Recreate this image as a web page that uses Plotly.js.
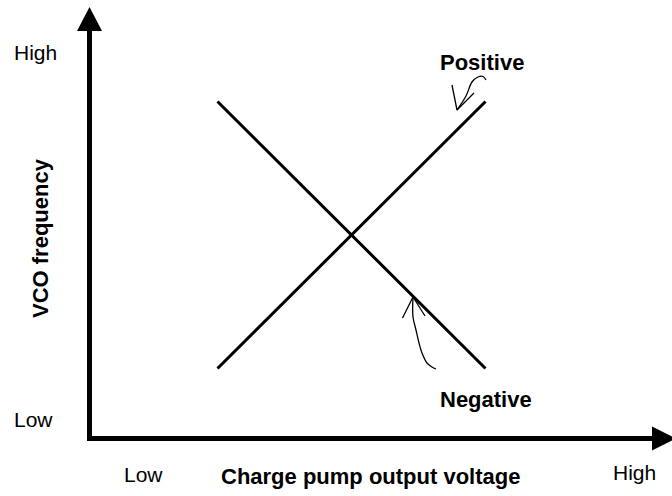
<!DOCTYPE html>
<html>
<head>
<meta charset="utf-8">
<script src="https://cdn.plot.ly/plotly-3.0.1.min.js"></script>
<style>html,body{margin:0;padding:0;background:#fff;}#chart{width:672px;height:496px;}</style>
</head>
<body>
<div id="chart"></div>
<script>
// Conceptual data (arbitrary units; origin = where the axes meet)
const cpVoltage = [1.28, 3.96];          // charge pump output voltage
const freqPositive = [0.70, 3.37];       // VCO frequency, positive gain
const freqNegative = [3.37, 0.70];       // VCO frequency, negative gain
const axisLabelsX = ['Low', 'High'];
const axisLabelsY = ['Low', 'High'];
const seriesNames = ['Positive', 'Negative'];

// hand-drawn pointer strokes (same arbitrary units)
const posPointerX = [3.675, 3.765, 3.825, 3.885, 3.935, 3.965];
const posPointerY = [3.285, 3.425, 3.565, 3.615, 3.62, 3.585];
const posBarbX = [3.625, 3.675, 3.845];
const posBarbY = [3.535, 3.285, 3.455];
const negPointerX = [3.235, 3.235, 3.265, 3.295, 3.325, 3.375, 3.425, 3.465];
const negPointerY = [1.415, 1.215, 1.085, 0.955, 0.855, 0.755, 0.715, 0.695];
const negBarbX = [3.13, 3.235, 3.355];
const negBarbY = [1.205, 1.415, 1.225];

const X0 = -0.895, X1 = 5.825, Y0 = -0.575, Y1 = 4.385;
const W = 672, H = 496;
function px(x){ return x / W; }
function py(y){ return 1 - y / H; }

const black = '#000000';
const traces = [
  {x: cpVoltage, y: freqPositive, mode: 'lines', name: seriesNames[0], line: {color: black, width: 3}, hoverinfo: 'skip'},
  {x: cpVoltage, y: freqNegative, mode: 'lines', name: seriesNames[1], line: {color: black, width: 3}, hoverinfo: 'skip'},
  {x: posPointerX, y: posPointerY, mode: 'lines', line: {color: black, width: 1.3, shape: 'spline'}, hoverinfo: 'skip'},
  {x: posBarbX, y: posBarbY, mode: 'lines', line: {color: black, width: 1.3}, hoverinfo: 'skip'},
  {x: negPointerX, y: negPointerY, mode: 'lines', line: {color: black, width: 1.3, shape: 'spline'}, hoverinfo: 'skip'},
  {x: negBarbX, y: negBarbY, mode: 'lines', line: {color: black, width: 1.3}, hoverinfo: 'skip'}
];

const shapes = [
  {type: 'line', xref: 'x', yref: 'y', x0: 0, y0: -0.025, x1: 0, y1: 4.08, line: {color: black, width: 5}},
  {type: 'line', xref: 'x', yref: 'y', x0: -0.025, y0: 0, x1: 5.63, y1: 0, line: {color: black, width: 5}},
  {type: 'path', xref: 'x', yref: 'y', path: 'M -0.125 4.075 L 0.125 4.075 L 0 4.315 Z', fillcolor: black, line: {color: black, width: 0}},
  {type: 'path', xref: 'x', yref: 'y', path: 'M 5.625 0.12 L 5.625 -0.12 L 5.865 0 Z', fillcolor: black, line: {color: black, width: 0}}
];

const normal = {family: 'Liberation Sans, Arial, sans-serif', size: 21, color: black};
const bold = {family: 'Liberation Sans, Arial, sans-serif', size: 22, color: black, weight: 'bold'};
function ann(text, x, y, font, extra){
  return Object.assign({text: text, xref: 'paper', yref: 'paper', x: px(x), y: py(y), xanchor: 'center', yanchor: 'middle', showarrow: false, font: font}, extra || {});
}
const annotations = [
  ann(axisLabelsY[1], 35, 52, normal),
  ann(axisLabelsY[0], 33, 419, normal),
  ann(axisLabelsX[0], 143, 474, normal),
  ann(axisLabelsX[1], 634, 472, normal),
  ann('<b>Charge pump output voltage</b>', 370, 476, bold),
  ann('<b>VCO frequency</b>', 40, 238, bold, {textangle: -90}),
  ann('<b>' + seriesNames[0] + '</b>', 482, 62, bold),
  ann('<b>' + seriesNames[1] + '</b>', 486, 399, bold)
];

const layout = {
  width: W, height: H, autosize: false,
  margin: {l: 0, r: 0, t: 0, b: 0, pad: 0},
  paper_bgcolor: '#ffffff', plot_bgcolor: '#ffffff',
  showlegend: false,
  xaxis: {range: [X0, X1], visible: false, fixedrange: true},
  yaxis: {range: [Y0, Y1], visible: false, fixedrange: true},
  shapes: shapes,
  annotations: annotations
};
Plotly.newPlot('chart', traces, layout, {displayModeBar: false, staticPlot: true});
</script>
</body>
</html>
